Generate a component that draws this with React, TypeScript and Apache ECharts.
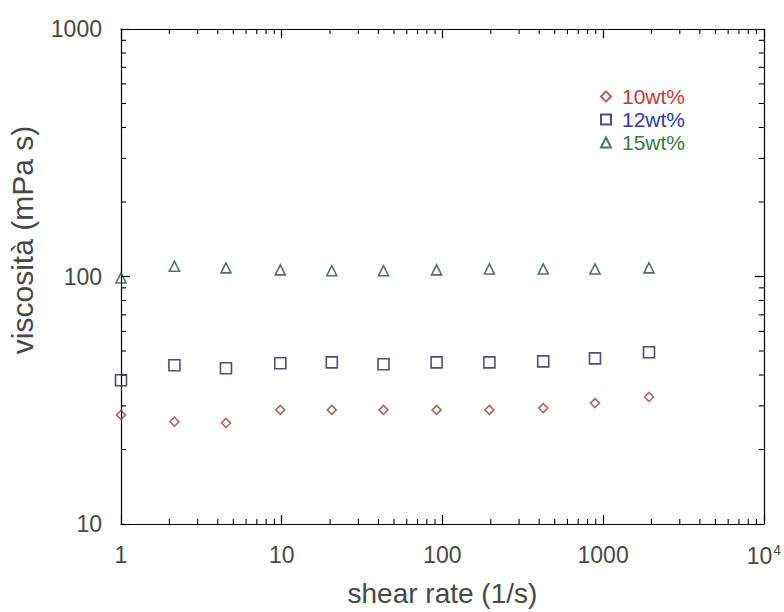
import React, { useEffect, useRef } from 'react';
import * as echarts from 'echarts';

// Shear-rate sweep (1/s) and viscosity readings (mPa s) for three concentrations
const shearRates = [1, 2.15, 4.5, 9.8, 20.5, 43, 92, 196, 424, 890, 1930];
const visc10 = [27.6, 25.9, 25.6, 28.9, 28.9, 28.9, 28.9, 28.9, 29.4, 30.8, 32.6];
const visc12 = [38.1, 43.8, 42.6, 44.6, 45.0, 44.2, 45.0, 45.0, 45.4, 46.7, 49.4];
const visc15 = [98.6, 110, 108.4, 106.4, 105.5, 105.5, 106.4, 107.3, 107.3, 107.3, 108.4];

const seriesNames = ['10wt%', '12wt%', '15wt%'];
const markerColors = ['#9a4038', '#22225a', '#244e34'];
const legendColors = ['#c23b3b', '#3535ae', '#3a7a40'];

const X_MIN = 1;
const X_MAX = 10000;
const Y_MIN = 10;
const Y_MAX = 1000;

const FONT = '"Liberation Sans", Arial, Helvetica, sans-serif';
const TEXT = '#484848';

// log-axis minor tick positions (2..9 within each decade)
function minorValues(lo: number, hi: number): number[] {
  const out: number[] = [];
  for (let d = lo; d < hi; d *= 10) {
    for (let k = 2; k <= 9; k++) out.push(d * k);
  }
  return out;
}

export default function App() {
  const ref = useRef<HTMLDivElement>(null);

  useEffect(() => {
    if (!ref.current) return;
    const chart = echarts.init(ref.current, null, { renderer: 'svg' });

    const tickData: number[][] = [
      ...minorValues(X_MIN, X_MAX).map((v) => [v, Y_MIN, 0]),
      ...minorValues(Y_MIN, Y_MAX).map((v) => [X_MIN, v, 1]),
    ];

    const MINOR = 5;

    const baseAxis = {
      type: 'log' as const,
      logBase: 10,
      axisLine: { show: true, lineStyle: { color: '#000', width: 1.2 } },
      axisTick: { show: true, inside: true, length: 9, lineStyle: { color: '#000', width: 1.2 } },
      splitLine: { show: false },
      minorTick: { show: false },
    };

    const scatter = (name: string, vals: number[], symbol: string, size: number, i: number) => ({
      name,
      type: 'scatter',
      xAxisIndex: 0,
      yAxisIndex: 0,
      symbol,
      symbolSize: size,
      data: shearRates.map((x, k) => [x, vals[k]]),
      itemStyle: { color: 'rgba(255,255,255,0)', borderColor: markerColors[i], borderWidth: 1.6 },
      z: 3,
    });

    chart.setOption({
      animation: false,
      backgroundColor: '#fff',
      textStyle: { fontFamily: FONT },
      grid: { left: 121, right: 19, top: 29, bottom: 84, containLabel: false },
      xAxis: [
        {
          ...baseAxis,
          position: 'bottom',
          min: X_MIN,
          max: X_MAX,
          name: 'shear rate (1/s)',
          nameLocation: 'middle',
          nameGap: 55,
          nameTextStyle: { fontSize: 28, color: TEXT, fontFamily: FONT },
          axisLabel: {
            show: true,
            margin: 19,
            fontSize: 23,
            color: TEXT,
            fontFamily: FONT,
            formatter: (v: number) => (v >= 10000 ? '{b|10}{s|4}' : String(v)),
            rich: {
              b: { fontSize: 23, color: TEXT, fontFamily: FONT },
              s: { fontSize: 14, color: TEXT, fontFamily: FONT, verticalAlign: 'bottom', padding: [0, 0, 12, 1] },
            },
          },
        },
        {
          ...baseAxis,
          position: 'top',
          min: X_MIN,
          max: X_MAX,
          axisLabel: { show: false },
        },
      ],
      yAxis: [
        {
          ...baseAxis,
          position: 'left',
          min: Y_MIN,
          max: Y_MAX,
          axisLabel: {
            show: true,
            margin: 19,
            fontSize: 23,
            color: TEXT,
            fontFamily: FONT,
            formatter: (v: number) => String(v),
          },
        },
        {
          ...baseAxis,
          position: 'right',
          min: Y_MIN,
          max: Y_MAX,
          axisLabel: { show: false },
        },
      ],
      legend: {
        orient: 'vertical',
        left: 595,
        top: 80,
        itemWidth: 10,
        itemHeight: 10,
        itemGap: 0,
        selectedMode: false,
        textStyle: { fontSize: 21, lineHeight: 23, fontFamily: FONT, padding: [0, 0, 0, 6] },
        data: seriesNames.map((n, i) => ({
          name: n,
          textStyle: {
            color: legendColors[i],
            fontSize: 21,
            lineHeight: 23,
            fontFamily: FONT,
            padding: [0, 0, 0, 6],
          },
        })),
      },
      graphic: [
        {
          type: 'text',
          x: 22,
          y: 240,
          rotation: Math.PI / 2,
          style: {
            text: 'viscosità (mPa s)',
            fill: TEXT,
            font: `30px ${FONT}`,
            textAlign: 'center',
            textVerticalAlign: 'middle',
          },
        },
      ],
      series: [
        scatter(seriesNames[0], visc10, 'diamond', 9, 0),
        scatter(seriesNames[1], visc12, 'rect', 11, 1),
        scatter(seriesNames[2], visc15, 'triangle', 10, 2),
        {
          type: 'custom',
          name: 'minor-ticks',
          xAxisIndex: 0,
          yAxisIndex: 0,
          silent: true,
          clip: false,
          encode: { x: 0, y: 1 },
          data: tickData,
          renderItem: (_params: any, api: any) => {
            const kind = api.value(2);
            const stroke = { stroke: '#000', lineWidth: 1.1 };
            if (kind === 0) {
              const v = api.value(0);
              const b = api.coord([v, Y_MIN]);
              const t = api.coord([v, Y_MAX]);
              return {
                type: 'group',
                children: [
                  { type: 'line', shape: { x1: b[0], y1: b[1], x2: b[0], y2: b[1] - MINOR }, style: stroke },
                  { type: 'line', shape: { x1: t[0], y1: t[1], x2: t[0], y2: t[1] + MINOR }, style: stroke },
                ],
              };
            }
            const v = api.value(1);
            const l = api.coord([X_MIN, v]);
            const r = api.coord([X_MAX, v]);
            return {
              type: 'group',
              children: [
                { type: 'line', shape: { x1: l[0], y1: l[1], x2: l[0] + MINOR, y2: l[1] }, style: stroke },
                { type: 'line', shape: { x1: r[0], y1: r[1], x2: r[0] - MINOR, y2: r[1] }, style: stroke },
              ],
            };
          },
          z: 2,
        },
      ],
    });

    return () => chart.dispose();
  }, []);

  return (
    <div
      ref={ref}
      style={{ position: 'fixed', left: 0, top: 0, width: 784, height: 612, background: '#fff' }}
    />
  );
}
